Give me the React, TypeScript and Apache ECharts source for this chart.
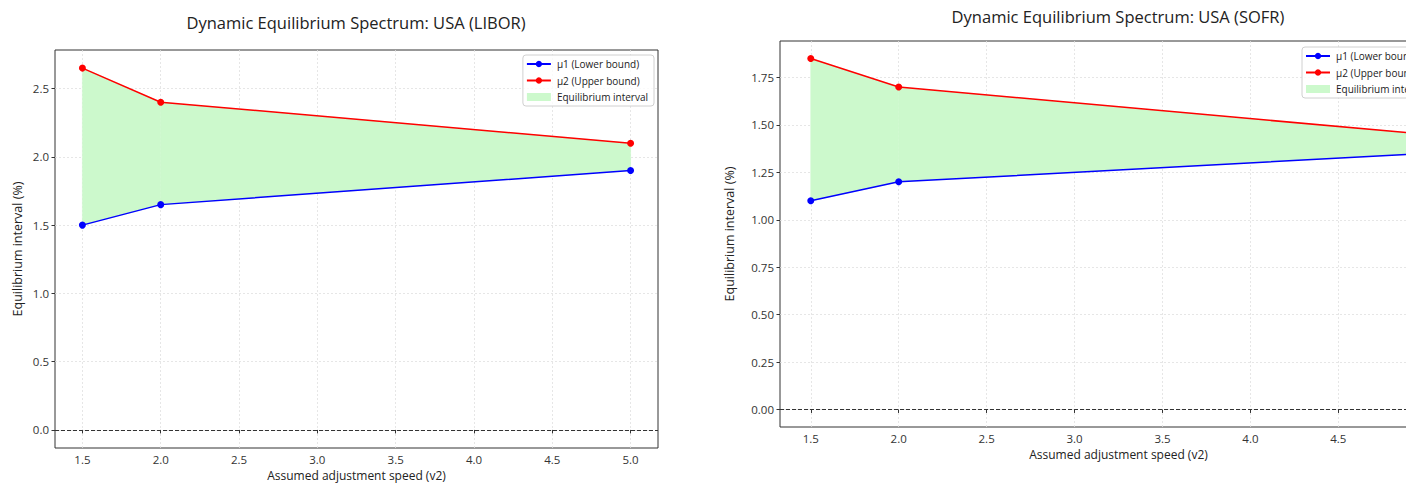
import React, { useEffect, useRef } from "react";
import * as echarts from "echarts";

const speeds = [1.5, 2.0, 5.0];
const liborLower = [1.5, 1.65, 1.9];
const liborUpper = [2.65, 2.4, 2.1];
const sofrLower = [1.1, 1.2, 1.35];
const sofrUpper = [1.85, 1.7, 1.45];
const xTicks = [1.5, 2.0, 2.5, 3.0, 3.5, 4.0, 4.5, 5.0];
const liborYTicks = [0, 0.5, 1.0, 1.5, 2.0, 2.5];
const sofrYTicks = [0, 0.25, 0.5, 0.75, 1.0, 1.25, 1.5, 1.75];

const NAME_LOW = "μ1 (Lower bound)";
const NAME_UP = "μ2 (Upper bound)";
const NAME_BAND = "Equilibrium interval";
const FONT = "'Open Sans', 'DejaVu Sans', sans-serif";
const GREEN = "#ccf9cc";
const CHART_W = 1470;

const pairs = (xs: number[], ys: number[]) => xs.map((x, i) => [x, ys[i]]);
// one quadrilateral per segment: [x0, lo0, hi0, x1, lo1, hi1]
const bandSegments = (xs: number[], lo: number[], hi: number[]) =>
  xs.slice(0, -1).map((x, i) => [x, lo[i], hi[i], xs[i + 1], lo[i + 1], hi[i + 1]]);

function xAxisCfg(gridIndex: number, nameGap: number) {
  return {
    type: "value",
    gridIndex,
    min: 1.325,
    max: 5.175,
    name: "Assumed adjustment speed (v2)",
    nameLocation: "middle",
    nameGap,
    nameTextStyle: { fontFamily: FONT, fontSize: 12, color: "#222" },
    axisLine: { show: false },
    axisTick: { show: true, length: 3.5, customValues: xTicks, lineStyle: { color: "#333" } },
    axisLabel: {
      customValues: xTicks,
      formatter: (v: number) => v.toFixed(1),
      fontFamily: FONT,
      fontSize: 11.5,
      color: "#333",
      margin: 5,
    },
    splitLine: { show: true, lineStyle: { color: "#e0e0e0", type: [2, 2], width: 0.8 } },
  };
}

function yAxisCfg(gridIndex: number, min: number, max: number, ticks: number[], digits: number, nameGap: number) {
  return {
    type: "value",
    gridIndex,
    min,
    max,
    name: "Equilibrium interval (%)",
    nameLocation: "middle",
    nameGap,
    nameTextStyle: { fontFamily: FONT, fontSize: 12.5, color: "#222" },
    axisLine: { show: false },
    axisTick: { show: true, length: 3.5, customValues: ticks, lineStyle: { color: "#333" } },
    axisLabel: {
      customValues: ticks,
      formatter: (v: number) => v.toFixed(digits),
      fontFamily: FONT,
      fontSize: 11.5,
      color: "#333",
      margin: 6,
    },
    splitLine: { show: true, lineStyle: { color: "#e0e0e0", type: [2, 2], width: 0.8 } },
  };
}

function seriesFor(idx: number, lower: number[], upper: number[]) {
  return [
    {
      type: "custom",
      name: NAME_BAND,
      xAxisIndex: idx,
      yAxisIndex: idx,
      data: bandSegments(speeds, lower, upper),
      encode: { x: [0, 3], y: [1, 2, 4, 5] },
      itemStyle: { color: GREEN },
      silent: true,
      z: 1,
      renderItem: (params: any, api: any) => {
        const a = api.coord([api.value(0), api.value(1)]);
        const b = api.coord([api.value(3), api.value(4)]);
        const c = api.coord([api.value(3), api.value(5)]);
        const d = api.coord([api.value(0), api.value(2)]);
        return {
          type: "polygon",
          shape: { points: [a, b, c, d] },
          style: { fill: GREEN, stroke: GREEN, lineWidth: 0.6 },
        };
      },
    },
    {
      type: "line",
      name: NAME_LOW,
      xAxisIndex: idx,
      yAxisIndex: idx,
      data: pairs(speeds, lower),
      symbol: "circle",
      symbolSize: 7,
      itemStyle: { color: "#0000ff" },
      lineStyle: { color: "#0000ff", width: 1.5 },
      z: 3,
      markLine: {
        silent: true,
        symbol: ["none", "none"],
        label: { show: false },
        lineStyle: { color: "#333", type: [4, 2], width: 1 },
        data: [{ yAxis: 0 }],
      },
    },
    {
      type: "line",
      name: NAME_UP,
      xAxisIndex: idx,
      yAxisIndex: idx,
      data: pairs(speeds, upper),
      symbol: "circle",
      symbolSize: 7,
      itemStyle: { color: "#ff0000" },
      lineStyle: { color: "#ff0000", width: 1.5 },
      z: 3,
    },
  ];
}

function legendCfg(pos: Record<string, number>) {
  return {
    ...pos,
    orient: "vertical",
    itemWidth: 24,
    itemHeight: 8,
    itemGap: 6.5,
    padding: [4, 6, 4, 3],
    borderColor: "#d0d0d0",
    borderWidth: 1,
    borderRadius: 3,
    backgroundColor: "rgba(255,255,255,0.8)",
    textStyle: { fontFamily: FONT, fontSize: 10, color: "#222", padding: [0, 0, 0, 1] },
    data: [{ name: NAME_LOW }, { name: NAME_UP }, { name: NAME_BAND, icon: "rect" }],
  };
}

export default function App() {
  const ref = useRef<HTMLDivElement>(null);
  useEffect(() => {
    if (!ref.current) return;
    const chart = echarts.init(ref.current, undefined, { renderer: "svg" });
    chart.setOption({
      animation: false,
      backgroundColor: "#ffffff",
      textStyle: { fontFamily: FONT },
      grid: [
        { left: 55, top: 50, width: 603, height: 398, show: true, borderColor: "#333", borderWidth: 1, backgroundColor: "transparent", containLabel: false, outerBoundsMode: "none" },
        { left: 780, top: 41, width: 677, height: 386, show: true, borderColor: "#333", borderWidth: 1, backgroundColor: "transparent", containLabel: false, outerBoundsMode: "none" },
      ],
      xAxis: [xAxisCfg(0, 19), xAxisCfg(1, 19)],
      yAxis: [
        yAxisCfg(0, -0.1325, 2.7825, liborYTicks, 1, 31),
        yAxisCfg(1, -0.0925, 1.9425, sofrYTicks, 2, 44),
      ],
      legend: [legendCfg({ right: CHART_W - 654, top: 55 }), legendCfg({ left: 1302, top: 47 })],
      graphic: [
        {
          type: "text",
          x: 356,
          y: 22,
          style: { text: "Dynamic Equilibrium Spectrum: USA (LIBOR)", fontFamily: FONT, fontSize: 16.5, fill: "#222", textAlign: "center", textVerticalAlign: "middle" },
        },
        {
          type: "text",
          x: 1118,
          y: 16,
          style: { text: "Dynamic Equilibrium Spectrum: USA (SOFR)", fontFamily: FONT, fontSize: 16.5, fill: "#222", textAlign: "center", textVerticalAlign: "middle" },
        },
      ],
      series: [...seriesFor(0, liborLower, liborUpper), ...seriesFor(1, sofrLower, sofrUpper)],
    });
    return () => chart.dispose();
  }, []);
  return (
    <div style={{ position: "fixed", left: 0, top: 0, width: 1406, height: 483, overflow: "hidden", background: "#fff" }}>
      <div ref={ref} style={{ width: CHART_W, height: 483 }} />
    </div>
  );
}
